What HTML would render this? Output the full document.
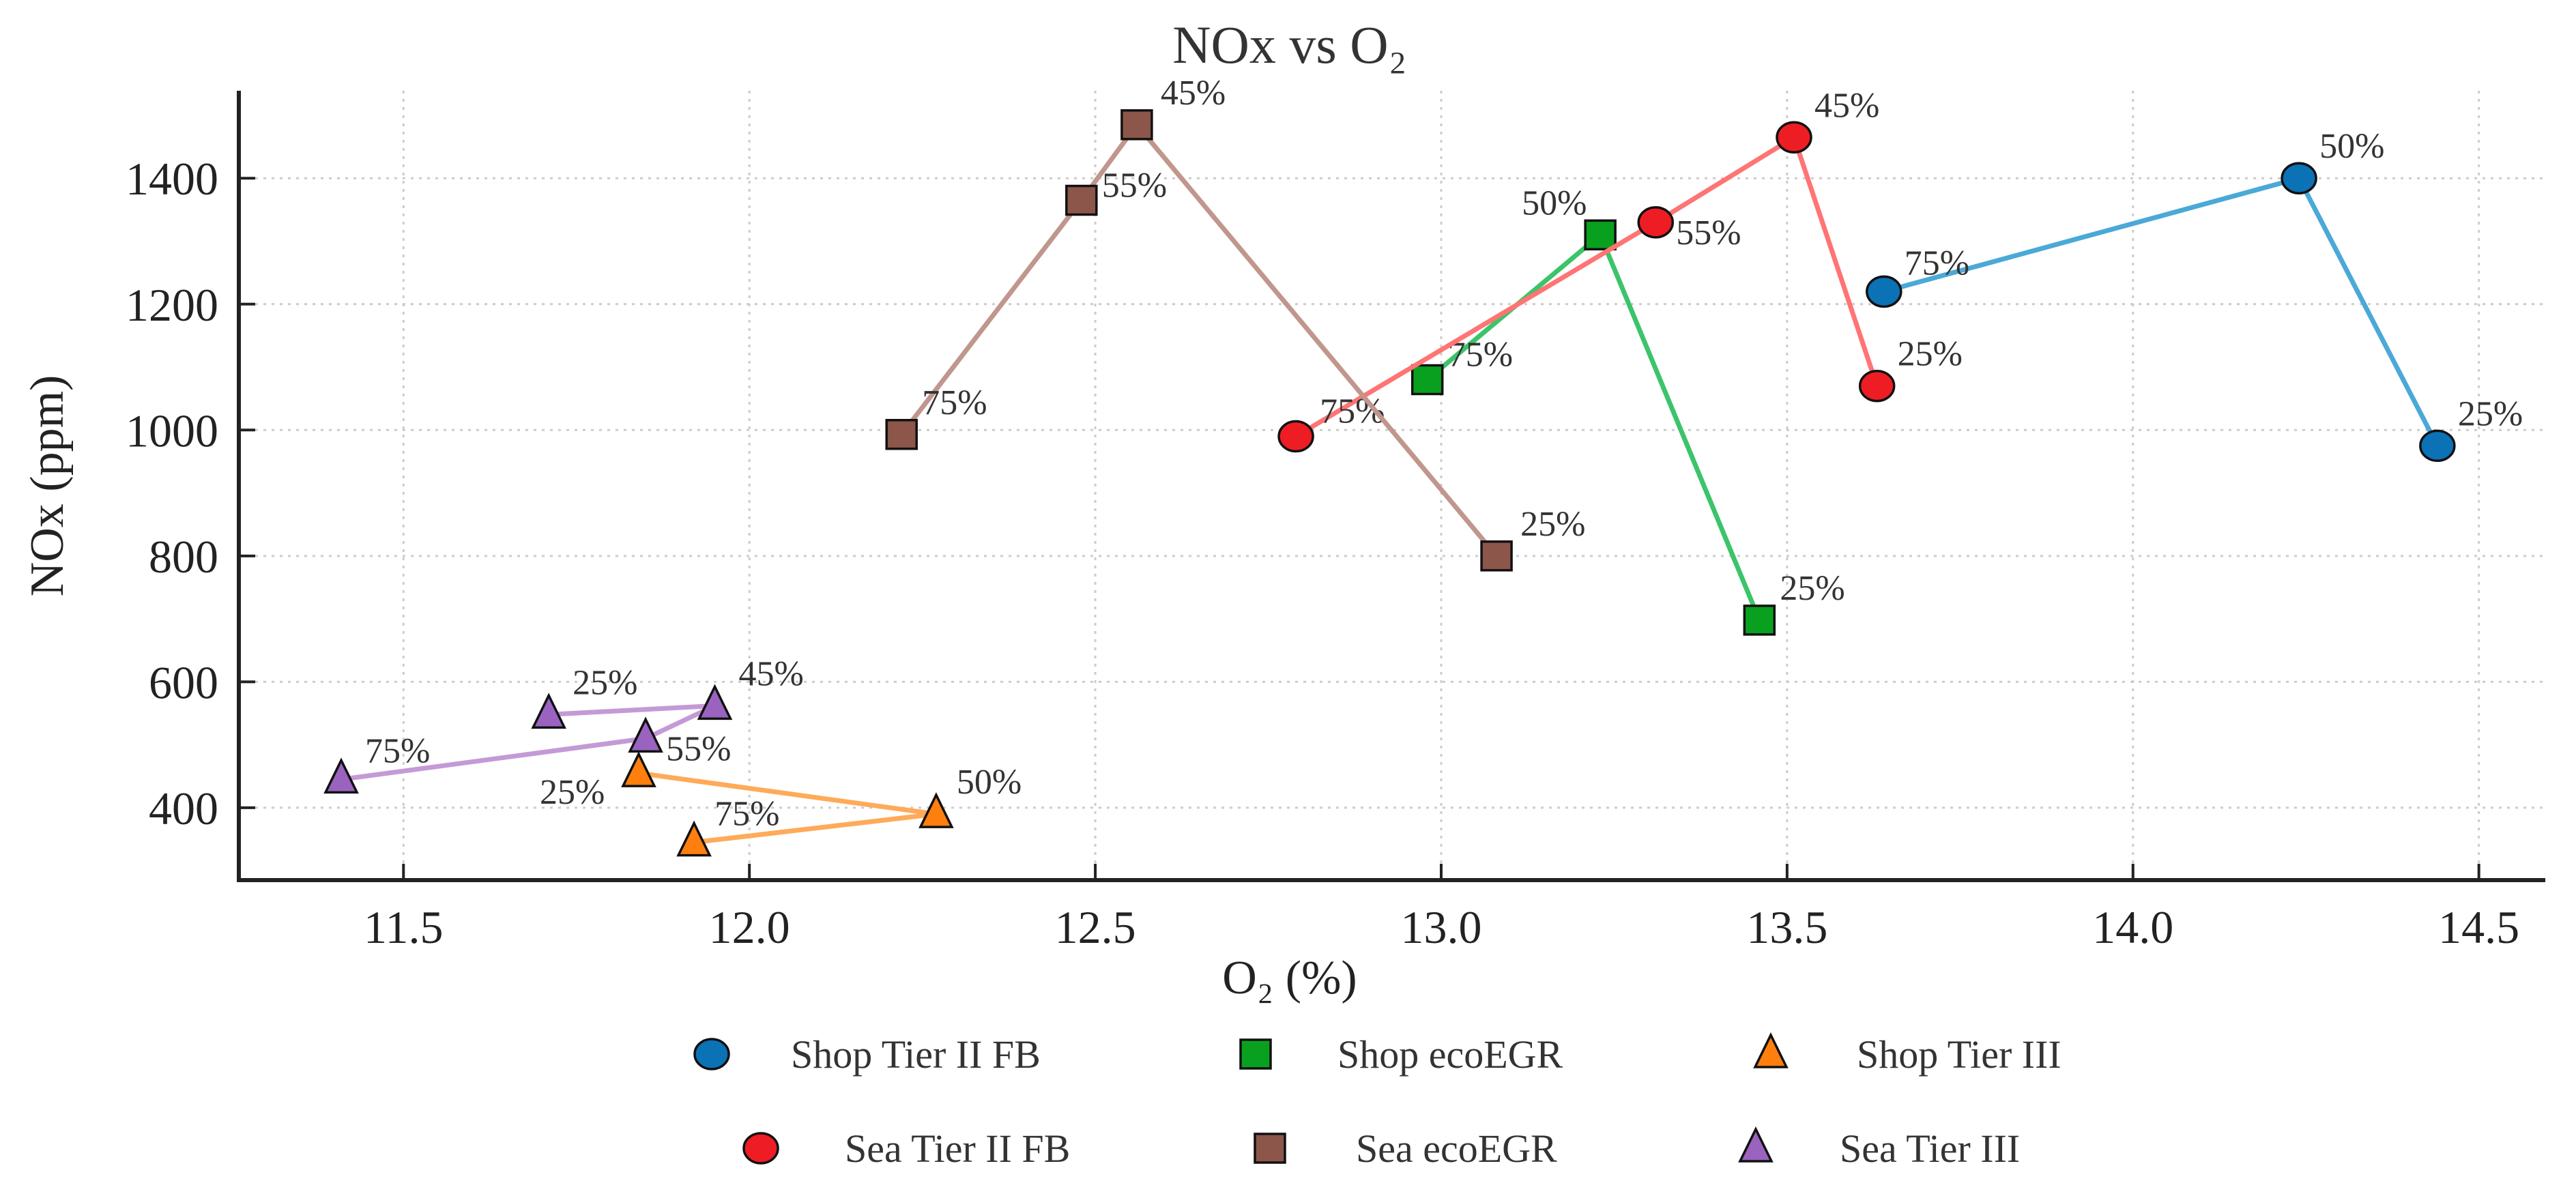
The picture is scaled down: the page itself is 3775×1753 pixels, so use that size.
<!DOCTYPE html>
<html><head><meta charset="utf-8"><style>
html,body{margin:0;padding:0;background:#fff;}
svg{display:block;font-family:"Liberation Serif",serif;}
</style></head><body>
<svg id="chart" width="3775" height="1753" viewBox="0 0 3775 1753">
<text x="1890" y="92" font-size="78" text-anchor="middle" fill="#333">NOx vs O₂</text>
<g id="grid"></g>
<g id="series"></g>
<g id="axes"></g>
<text x="1890" y="1456" font-size="70" text-anchor="middle" fill="#222">O₂ (%)</text>
<text transform="translate(92,712) rotate(-90)" font-size="70" text-anchor="middle" fill="#222">NOx (ppm)</text>
<g id="legend"></g>
</svg>
<script>
const xTicks=[11.5,12.0,12.5,13.0,13.5,14.0,14.5];
const yTicks=[400,600,800,1000,1200,1400];
const seriesNames=["Shop Tier II FB","Shop ecoEGR","Shop Tier III","Sea Tier II FB","Sea ecoEGR","Sea Tier III"];
const shopTier2X=[13.64,14.24,14.44];const shopTier2Y=[1220,1400,975];const shopTier2L=["75%","50%","25%"];
const shopEgrX=[12.98,13.23,13.46];const shopEgrY=[1080,1310,698];const shopEgrL=["75%","50%","25%"];
const shopTier3X=[11.84,12.27,11.92];const shopTier3Y=[455,390,345];const shopTier3L=["25%","50%","75%"];
const seaTier2X=[12.79,13.31,13.51,13.63];const seaTier2Y=[990,1330,1465,1070];const seaTier2L=["75%","55%","45%","25%"];
const seaEgrX=[12.22,12.48,12.56,13.08];const seaEgrY=[993,1365,1485,800];const seaEgrL=["75%","55%","45%","25%"];
const seaTier3X=[11.41,11.85,11.95,11.71];const seaTier3Y=[445,510,562,548];const seaTier3L=["75%","55%","45%","25%"];

const X0=350,X1=3730,Y0=133,Y1=1290;
const xmin=11.262,xmax=14.596,ymin=285,ymax=1539;
const sx=v=>X0+(v-xmin)/(xmax-xmin)*(X1-X0);
const sy=v=>Y1-(v-ymin)/(ymax-ymin)*(Y1-Y0);
const NS="http://www.w3.org/2000/svg";
function mk(tag,attrs,parent){const e=document.createElementNS(NS,tag);for(const k in attrs)e.setAttribute(k,attrs[k]);parent.appendChild(e);return e;}
const grid=document.getElementById('grid'),axes=document.getElementById('axes'),ser=document.getElementById('series'),leg=document.getElementById('legend');
xTicks.forEach(t=>{
 let g=mk('line',{x1:sx(t),x2:sx(t),y1:Y0,y2:Y1,stroke:'#ccc','stroke-width':3,'stroke-dasharray':'4 8'},grid);
 
 let tk=mk('line',{x1:sx(t),x2:sx(t),y1:Y1,y2:Y1-24,stroke:'#222','stroke-width':4},axes);
 
 let tx=mk('text',{x:sx(t),y:Y1+92,'font-size':68,'text-anchor':'middle',fill:'#222'},axes);tx.textContent=t.toFixed(1);
 
});
yTicks.forEach(t=>{
 let g=mk('line',{x1:X0,x2:X1,y1:sy(t),y2:sy(t),stroke:'#ccc','stroke-width':3,'stroke-dasharray':'4 8'},grid);
 
 let tk=mk('line',{x1:X0,x2:X0+24,y1:sy(t),y2:sy(t),stroke:'#222','stroke-width':4},axes);
 
 let tx=mk('text',{x:X0-30,y:sy(t)+24,'font-size':68,'text-anchor':'end',fill:'#222'},axes);tx.textContent=t;
 
});
let ax=mk('path',{d:`M${X0} ${Y0} V${Y1} H${X1}`,fill:'none',stroke:'#222','stroke-width':6},axes);


function marker(shape,cx,cy,fill,parent){
 if(shape==='o')return mk('ellipse',{cx,cy,rx:25,ry:22,fill,stroke:'#111','stroke-width':3.5},parent);
 if(shape==='s')return mk('rect',{x:cx-22,y:cy-21,width:44,height:42,fill,stroke:'#111','stroke-width':3.5},parent);
 return mk('path',{d:`M${cx} ${cy-28} L${cx+23} ${cy+19} L${cx-23} ${cy+19} Z`,fill,stroke:'#111','stroke-width':3.5},parent);
}
const defs=[
 {xs:shopTier2X,ys:shopTier2Y,ls:shopTier2L,shape:'o',fill:'#0b72b5',line:'#4aa9d6',off:[[30,-25],[30,-30],[30,-30]]},
 {xs:shopEgrX,ys:shopEgrY,ls:shopEgrL,shape:'s',fill:'#0aa01f',line:'#3cc46a',off:[[30,-20],[-115,-30],[30,-30]]},
 {xs:shopTier3X,ys:shopTier3Y,ls:shopTier3L,shape:'^',fill:'#ff7f0e',line:'#ffaa5a',off:[[-145,45],[30,-30],[30,-25]]},
 {xs:seaTier2X,ys:seaTier2Y,ls:seaTier2L,shape:'o',fill:'#ee1d24',line:'#ff7474',off:[[35,-20],[30,32],[30,-30],[30,-30]]},
 {xs:seaEgrX,ys:seaEgrY,ls:seaEgrL,shape:'s',fill:'#8c564b',line:'#c0968d',off:[[30,-30],[30,-5],[35,-30],[35,-30]]},
 {xs:seaTier3X,ys:seaTier3Y,ls:seaTier3L,shape:'^',fill:'#9a63bf',line:'#c49ad6',off:[[35,-25],[30,32],[35,-30],[35,-30]]}
];
defs.forEach((d,i)=>{
 const g=mk('g',{},ser);
 const pts=d.xs.map((x,j)=>sx(x)+','+sy(d.ys[j])).join(' ');
 const pl=mk('polyline',{points:pts,fill:'none',stroke:d.line,'stroke-width':7},g);
 
 d.xs.forEach((x,j)=>{
  const m=marker(d.shape,sx(x),sy(d.ys[j]),d.fill,g);
  
  const t=mk('text',{x:sx(x)+d.off[j][0],y:sy(d.ys[j])+d.off[j][1],'font-size':52,fill:'#333'},g);t.textContent=d.ls[j];
  
 });
});
const legMX=[1043,1840,2595,1115,1861,2573],legTX=[1159,1960,2721,1238,1987,2696],legY=[1545,1545,1545,1683,1683,1683];
defs.forEach((d,i)=>{
 const m=marker(d.shape,legMX[i],legY[i],d.fill,leg);
 
 const t=mk('text',{x:legTX[i],y:legY[i]+20,'font-size':58,fill:'#333'},leg);t.textContent=seriesNames[i];
 
});
</script>
</body></html>
